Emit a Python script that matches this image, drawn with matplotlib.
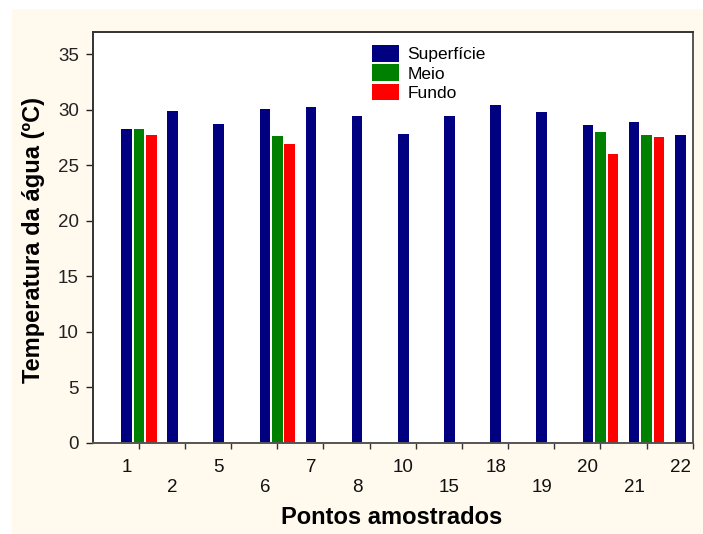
import numpy as np
import matplotlib.pyplot as plt
from matplotlib.patches import Rectangle

plt.rcParams['font.family'] = ['Liberation Sans', 'DejaVu Sans']

# Temperatura da água por ponto e profundidade
pontos = ['1', '2', '5', '6', '7', '8', '10', '15', '18', '19', '20', '21', '22']
superficie = [28.3, 29.9, 28.75, 30.1, 30.2, 29.45, 27.85, 29.45, 30.45, 29.75, 28.65, 28.85, 27.7]
meio = [28.3, None, None, 27.6, None, None, None, None, None, None, 28.0, 27.7, None]
fundo = [27.7, None, None, 26.95, None, None, None, None, None, None, 26.05, 27.5, None]

fig = plt.figure(figsize=(7.03, 5.34), dpi=100, facecolor='white')
# fundo creme da área do gráfico
fig.patches.append(Rectangle((12 / 703, 0), 1, 1 - 9 / 534, transform=fig.transFigure,
                             facecolor='#FFF9EE', edgecolor='none', zorder=-10))

ax = fig.add_axes([92.7 / 703, 1 - 442.7 / 534, 600 / 703, 410.7 / 534])
ax.set_facecolor('white')

x = np.arange(len(pontos))
w = 0.23
desloc = 0.27

def barras(vals, dx, cor, nome):
    xs = [xi + dx for xi, v in zip(x, vals) if v is not None]
    hs = [v for v in vals if v is not None]
    ax.bar(xs, hs, width=w, color=cor, label=nome, zorder=2)

barras(superficie, -desloc, '#000080', 'Superfície')
barras(meio, 0, '#008000', 'Meio')
barras(fundo, desloc, '#FF0000', 'Fundo')

ax.set_xlim(-1, 12)
ax.set_ylim(0, 37)
ax.set_yticks(np.arange(0, 36, 5))
ax.set_xticks(x)
ax.set_xticklabels([])
ax.tick_params(axis='y', labelsize=13.5, length=5, width=1, pad=5, colors='#222222')
ax.tick_params(axis='x', length=4, width=1, colors='#333333')

for s in ax.spines.values():
    s.set_color('#333333')
    s.set_linewidth(1.4)
ax.spines['bottom'].set_color('#555555')
ax.spines['right'].set_color('#555555')

# rótulos em duas linhas alternadas
for i, p in enumerate(pontos):
    dy = -17.5 if i % 2 == 0 else -32
    ax.annotate(p, xy=(i - desloc, 0), xycoords=('data', 'axes fraction'),
                xytext=(0, dy), textcoords='offset points',
                ha='center', va='center', fontsize=13.5, color='#111111',
                annotation_clip=False)

fig.text(392 / 703, 1 - 518 / 534, 'Pontos amostrados', ha='center', va='center',
         fontsize=17, fontweight='bold')
fig.text(34 / 703, 1 - 240 / 534, 'Temperatura da água (ºC)', ha='center', va='center',
         rotation=90, fontsize=17, fontweight='bold')

ax.legend(loc='upper left', bbox_to_anchor=(372 / 703, 1 - 45 / 534),
          bbox_transform=fig.transFigure, frameon=False, fontsize=12.5,
          borderpad=0, borderaxespad=0, handlelength=1.55, handleheight=1.1,
          handletextpad=0.5, labelspacing=0.12)

fig.savefig('out.png', dpi=100, facecolor=fig.get_facecolor())
